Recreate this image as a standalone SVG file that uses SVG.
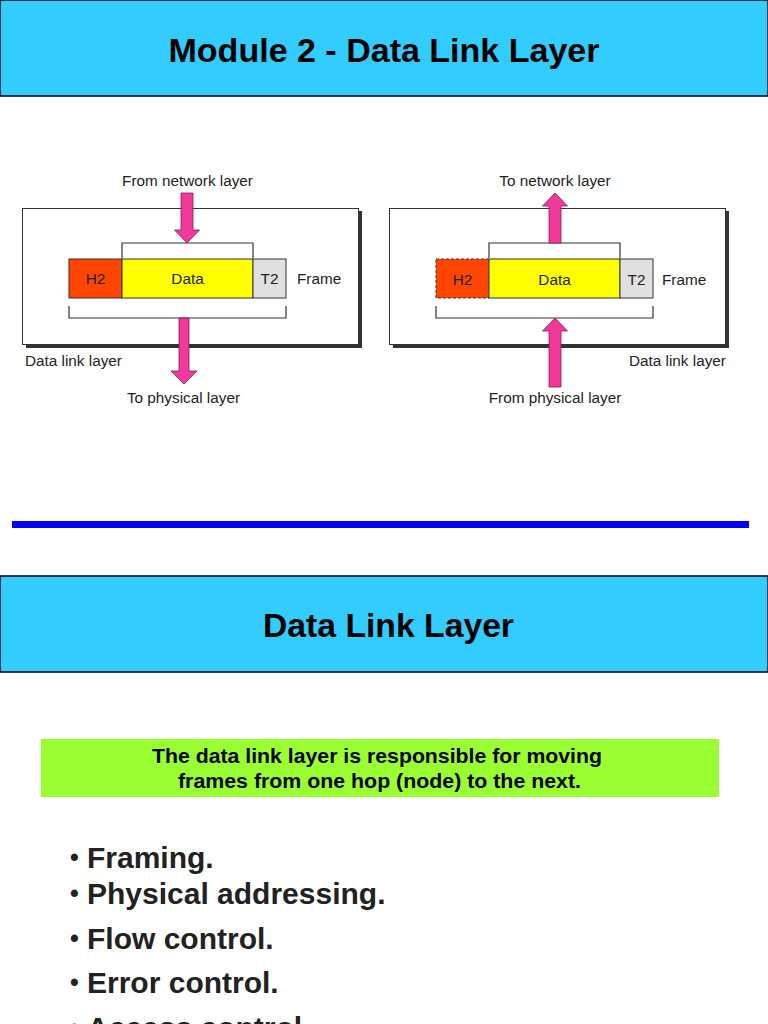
<svg xmlns="http://www.w3.org/2000/svg" width="768" height="1024" viewBox="0 0 768 1024">
<style>
.bar{fill:#33CCFF;stroke:#000;stroke-width:1.5}
.ttl{font-family:"Liberation Sans",Arial,sans-serif;font-weight:bold;font-size:34px;fill:#000;text-anchor:middle}
.lbl{font-family:"Liberation Sans",Arial,sans-serif;font-size:15.3px;fill:#222}
.mid{text-anchor:middle}
.box{fill:#fff;stroke:#333;stroke-width:1}
.shadow{fill:#333}
.h2{fill:#FF4500;stroke:#333;stroke-width:1}
.data{fill:#FFFF00;stroke:#333;stroke-width:1}
.t2{fill:#E0E0E0;stroke:#333;stroke-width:1}
.brk{fill:none;stroke:#333;stroke-width:1.2}
.arw{fill:#F0399A;stroke:#8B1A50;stroke-width:0.8}
.grn{fill:#99FF33}
.gtx{font-family:"Liberation Sans",Arial,sans-serif;font-weight:bold;font-size:19.5px;fill:#000;text-anchor:middle}
.bul{font-family:"Liberation Sans",Arial,sans-serif;font-weight:bold;font-size:30px;fill:#222}
.dot{font-family:"Liberation Sans",Arial,sans-serif;font-weight:bold;font-size:25px;fill:#222}
</style>
<rect width="768" height="1024" fill="#fff"/>
<g id="header1">
<rect class="bar" x="0" y="0" width="768" height="96"/>
<text class="ttl" x="384" y="62" textLength="431" lengthAdjust="spacingAndGlyphs">Module 2 - Data Link Layer</text>
</g>
<g id="sender">
<rect class="shadow" x="26" y="211" width="336" height="137"/>
<rect class="box" x="22.5" y="208.5" width="336" height="136"/>
<text class="lbl" x="25" y="366">Data link layer</text>
<g id="sender-frame">
<rect class="h2" x="69" y="259" width="53" height="39"/>
<rect class="data" x="122" y="259" width="131" height="39"/>
<rect class="t2" x="253" y="259" width="33" height="39"/>
<text class="lbl mid" x="95.5" y="284">H2</text>
<text class="lbl mid" x="187.5" y="284">Data</text>
<text class="lbl mid" x="269.5" y="284">T2</text>
<text class="lbl" x="297" y="284">Frame</text>
</g>
<text class="lbl mid" x="187.5" y="186">From network layer</text>
<text class="lbl mid" x="183.5" y="403">To physical layer</text>
</g>
<g id="receiver">
<rect class="shadow" x="393" y="211" width="336" height="137"/>
<rect class="box" x="389.5" y="208.5" width="336" height="136"/>
<text class="lbl" x="629" y="366">Data link layer</text>
<g id="receiver-frame">
<rect class="h2" x="436" y="259" width="53" height="39" stroke-dasharray="3,2"/>
<rect class="data" x="489" y="259" width="131" height="39"/>
<rect class="t2" x="620" y="259" width="33" height="39"/>
<text class="lbl mid" x="462.5" y="285">H2</text>
<text class="lbl mid" x="554.5" y="285">Data</text>
<text class="lbl mid" x="636.5" y="285">T2</text>
<text class="lbl" x="662" y="285">Frame</text>
</g>
<text class="lbl mid" x="555" y="186">To network layer</text>
<text class="lbl mid" x="555" y="403">From physical layer</text>
</g>
<g id="connectors">
<path class="brk" d="M122,258 V243 H253 V258"/>
<path class="brk" d="M69,306 V318 H286 V306"/>
<path class="brk" d="M489,258 V243 H620 V258"/>
<path class="brk" d="M436,306 V318 H653 V306"/>
<polygon class="arw" points="181,193 193,193 193,230 199.5,230 187,243 174.5,230 181,230"/>
<polygon class="arw" points="179,318 189,318 189,371 197,371 184,384 171,371 179,371"/>
<polygon class="arw" points="555,193 567.5,206 561,206 561,243 549,243 549,206 542.5,206"/>
<polygon class="arw" points="555,318 567.5,331 561,331 561,387 549,387 549,331 542.5,331"/>
</g>
<g id="divider">
<rect x="12" y="521" width="737" height="7" fill="#0000FF"/>
</g>
<g id="header2">
<rect class="bar" x="0" y="576" width="768" height="96"/>
<text class="ttl" x="388.5" y="637" textLength="251" lengthAdjust="spacingAndGlyphs">Data Link Layer</text>
</g>
<g id="definition">
<rect class="grn" x="41" y="739" width="678" height="58"/>
<text class="gtx" x="377" y="763" textLength="450" lengthAdjust="spacingAndGlyphs">The data link layer is responsible for moving</text>
<text class="gtx" x="379.5" y="788" textLength="403" lengthAdjust="spacingAndGlyphs">frames from one hop (node) to the next.</text>
</g>
<g id="bullets">
<text class="dot" x="70" y="866">•</text><text class="bul" x="87" y="868">Framing.</text>
<text class="dot" x="70" y="902">•</text><text class="bul" x="87" y="904">Physical addressing.</text>
<text class="dot" x="70" y="947">•</text><text class="bul" x="87" y="949">Flow control.</text>
<text class="dot" x="70" y="991">•</text><text class="bul" x="87" y="993">Error control.</text>
<text class="dot" x="70" y="1036">•</text><text class="bul" x="87" y="1038">Access control.</text>
</g>
</svg>
